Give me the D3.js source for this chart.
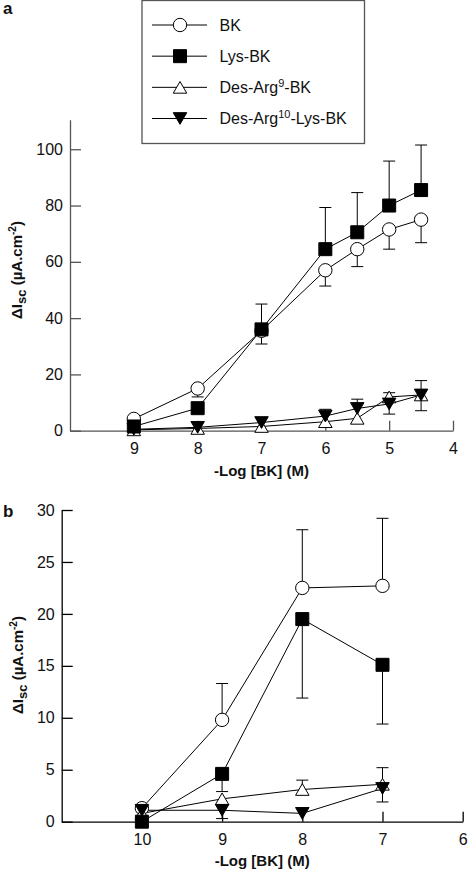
<!DOCTYPE html>
<html>
<head>
<meta charset="utf-8">
<script src="https://cdn.jsdelivr.net/npm/d3@7/dist/d3.min.js"></script>
<style>
  html, body { margin: 0; padding: 0; background: #fff; }
  svg { display: block; font-family: "Liberation Sans", Arial, sans-serif; }
</style>
</head>
<body>
<svg id="chart" width="468" height="872"></svg>
<script>
// ---------- DATA ----------
const seriesNames = ["BK", "Lys-BK", "Des-Arg9-BK", "Des-Arg10-Lys-BK"];

// Panel a
const xA = [9, 8, 7, 6, 5.5, 5, 4.5];
const xTicksA = [9, 8, 7, 6, 5, 4];
const yTicksA = [0, 20, 40, 60, 80, 100];
const aBK      = [4.2, 15, 35.5, 57, 64.5, 71.5, 75];
const aBKLow   = [null, 12, 30.8, 51.4, 58.3, 64.5, 66.8];
const aBKHigh  = [null, null, null, null, null, null, null];
const aLys     = [1.5, 8, 36, 64.5, 70.5, 80, 85.5];
const aLysLow  = [null, null, null, null, null, null, null];
const aLysHigh = [null, null, 45, 79.3, 84.6, 95.8, 101.5];
const aDA9     = [0.3, 0.8, 1.5, 3.2, 4.4, 12, 12.7];
const aDA9Low  = [null, null, null, null, null, null, 7.1];
const aDA9High = [null, null, null, null, null, 13.5, null];
const aDA10     = [0.5, 1.2, 2.9, 5.2, 7.9, 9.5, 12.7];
const aDA10Low  = [null, null, null, null, null, 5.9, null];
const aDA10High = [null, null, null, 7.6, 11.2, null, 17.8];

// Panel b
const xB = [10, 9, 8, 7];
const xTicksB = [10, 9, 8, 7, 6];
const yTicksB = [0, 5, 10, 15, 20, 25, 30];
const bBK      = [1.3, 9.8, 22.5, 22.7];
const bBKLow   = [null, null, null, null];
const bBKHigh  = [null, 13.3, 28.1, 29.2];
const bLys     = [0, 4.6, 19.5, 15.1];
const bLysLow  = [null, 2.9, 11.9, 9.4];
const bLysHigh = [null, null, null, null];
const bDA9     = [0.8, 2.2, 3.1, 3.6];
const bDA9Low  = [null, null, null, null];
const bDA9High = [null, null, 4.0, 5.2];
const bDA10     = [1.1, 1.1, 0.8, 3.2];
const bDA10Low  = [null, 0.3, null, 1.9];
const bDA10High = [null, null, null, null];

// ---------- DRAW ----------
const svg = d3.select("#chart");
const FONT = 16;
const fmt = d3.format("d");

const markerStyle = [
  { type: "circle", fill: "#fff" },
  { type: "square", fill: "#000" },
  { type: "triUp", fill: "#fff" },
  { type: "triDown", fill: "#000" }
];

function markerPath(type) {
  if (type === "circle") return d3.symbol(d3.symbolCircle, Math.PI * 6.7 * 6.7)();
  if (type === "square") return d3.symbol(d3.symbolSquare, 13 * 13)();
  const s = 13.5, h = s * Math.sqrt(3) / 2;
  if (type === "triUp") return `M0,${-h/2}L${s/2},${h/2}L${-s/2},${h/2}Z`;
  return `M0,${h/2}L${s/2},${-h/2}L${-s/2},${-h/2}Z`;
}

function drawMarker(g, type, fill, x, y) {
  g.append("path")
    .attr("d", markerPath(type))
    .attr("transform", `translate(${x},${y})`)
    .attr("fill", fill)
    .attr("stroke", "#000")
    .attr("stroke-width", 1);
}

function drawPanel(opt) {
  const g = svg.append("g");
  const x = opt.x, y = opt.y;
  // axes
  const ax = g.append("g")
    .attr("transform", `translate(0,${y.range()[0]})`)
    .call(d3.axisBottom(x).tickValues(opt.xTicks).tickFormat(fmt)
      .tickSize(-10).tickSizeOuter(0).tickPadding(12));
  const ay = g.append("g")
    .attr("transform", `translate(${x.range()[0]},0)`)
    .call(d3.axisLeft(y).tickValues(opt.yTicks).tickFormat(fmt)
      .tickSize(-11).tickSizeOuter(0).tickPadding(7));
  [ax, ay].forEach(a => {
    a.selectAll("path, line").attr("stroke", opt.axisColor).attr("stroke-width", 1.3);
    a.selectAll("text").attr("font-size", FONT).attr("fill", "#111")
      .attr("font-family", "'Liberation Sans', Arial, sans-serif");
  });

  const line = d3.line().x(d => x(d[0])).y(d => y(d[1]));
  // lines
  opt.series.forEach(s => {
    g.append("path")
      .datum(opt.xs.map((xv, i) => [xv, s.v[i]]))
      .attr("d", line)
      .attr("fill", "none")
      .attr("stroke", "#000")
      .attr("stroke-width", 1);
  });
  // error bars
  opt.series.forEach(s => {
    opt.xs.forEach((xv, i) => {
      [s.lo[i], s.hi[i]].forEach(e => {
        if (e === null || e === undefined) return;
        const px = x(xv);
        g.append("line").attr("x1", px).attr("x2", px)
          .attr("y1", y(s.v[i])).attr("y2", y(e))
          .attr("stroke", "#000").attr("stroke-width", 1);
        g.append("line").attr("x1", px - 6).attr("x2", px + 6)
          .attr("y1", y(e)).attr("y2", y(e))
          .attr("stroke", "#000").attr("stroke-width", 1);
      });
    });
  });
  // markers
  opt.series.forEach(s => {
    const m = markerStyle[s.k];
    opt.xs.forEach((xv, i) => drawMarker(g, m.type, m.fill, x(xv), y(s.v[i])));
  });

  // y-axis label
  const yl = g.append("text")
    .attr("transform", `translate(${opt.yLabelX},${opt.yLabelY}) rotate(-90)`)
    .attr("text-anchor", "middle")
    .attr("font-size", 15)
    .attr("font-weight", "bold")
    .attr("fill", "#111");
  yl.append("tspan").text("ΔI");
  yl.append("tspan").attr("font-size", 13).attr("dy", 4).text("sc");
  yl.append("tspan").attr("dy", -4).text(" (µA.cm");
  yl.append("tspan").attr("font-size", 10).attr("dy", -6).text("-2");
  yl.append("tspan").attr("dy", 6).text(")");

  // x-axis label
  g.append("text")
    .attr("x", (x.range()[0] + x.range()[1]) / 2)
    .attr("y", opt.xLabelY)
    .attr("text-anchor", "middle")
    .attr("font-size", 15)
    .attr("font-weight", "bold")
    .attr("fill", "#111")
    .text("-Log [BK] (M)");

  // panel letter
  g.append("text")
    .attr("x", opt.letterX).attr("y", opt.letterY)
    .attr("font-size", 17).attr("font-weight", "bold").attr("fill", "#111")
    .text(opt.letter);
}

// Panel a
const xScaleA = d3.scaleLinear().domain([10, 4]).range([70, 453]);
const yScaleA = d3.scaleLinear().domain([0, 110.5]).range([430.7, 119.7]);
drawPanel({
  x: xScaleA, y: yScaleA, xs: xA, xTicks: xTicksA, yTicks: yTicksA,
  axisColor: "#555",
  series: [
    { k: 0, v: aBK, lo: aBKLow, hi: aBKHigh },
    { k: 2, v: aDA9, lo: aDA9Low, hi: aDA9High },
    { k: 3, v: aDA10, lo: aDA10Low, hi: aDA10High },
    { k: 1, v: aLys, lo: aLysLow, hi: aLysHigh }
  ],
  yLabelX: 22, yLabelY: 270, xLabelY: 476, letter: "a", letterX: 3, letterY: 14
});

// Panel b
const xScaleB = d3.scaleLinear().domain([11, 6]).range([61.7, 462.7]);
const yScaleB = d3.scaleLinear().domain([0, 30]).range([821.7, 510]);
drawPanel({
  x: xScaleB, y: yScaleB, xs: xB, xTicks: xTicksB, yTicks: yTicksB,
  axisColor: "#000",
  series: [
    { k: 0, v: bBK, lo: bBKLow, hi: bBKHigh },
    { k: 2, v: bDA9, lo: bDA9Low, hi: bDA9High },
    { k: 3, v: bDA10, lo: bDA10Low, hi: bDA10High },
    { k: 1, v: bLys, lo: bLysLow, hi: bLysHigh }
  ],
  yLabelX: 23, yLabelY: 665, xLabelY: 866, letter: "b", letterX: 3, letterY: 517
});

// Legend
const leg = svg.append("g");
leg.append("rect")
  .attr("x", 142).attr("y", 0.5).attr("width", 222.5).attr("height", 143)
  .attr("fill", "#fff").attr("stroke", "#555").attr("stroke-width", 1.3);
const legRow = d3.scaleLinear().domain([0, 3]).range([25, 118.5]);
const legLabels = [
  [["BK", false]],
  [["Lys-BK", false]],
  [["Des-Arg", false], ["9", true], ["-BK", false]],
  [["Des-Arg", false], ["10", true], ["-Lys-BK", false]]
];
seriesNames.forEach((name, i) => {
  const yy = legRow(i);
  leg.append("line").attr("x1", 152).attr("x2", 207).attr("y1", yy).attr("y2", yy)
    .attr("stroke", "#000").attr("stroke-width", 1);
  drawMarker(leg, markerStyle[i].type, markerStyle[i].fill, 180, yy);
  const t = leg.append("text").attr("x", 219.5).attr("y", yy + 5.5)
    .attr("font-size", 16).attr("fill", "#111");
  let shifted = false;
  legLabels[i].forEach(([s, sup]) => {
    const ts = t.append("tspan").text(s);
    if (sup) { ts.attr("font-size", 11).attr("dy", -6); shifted = true; }
    else if (shifted) { ts.attr("dy", 6); shifted = false; }
  });
});
</script>
</body>
</html>
